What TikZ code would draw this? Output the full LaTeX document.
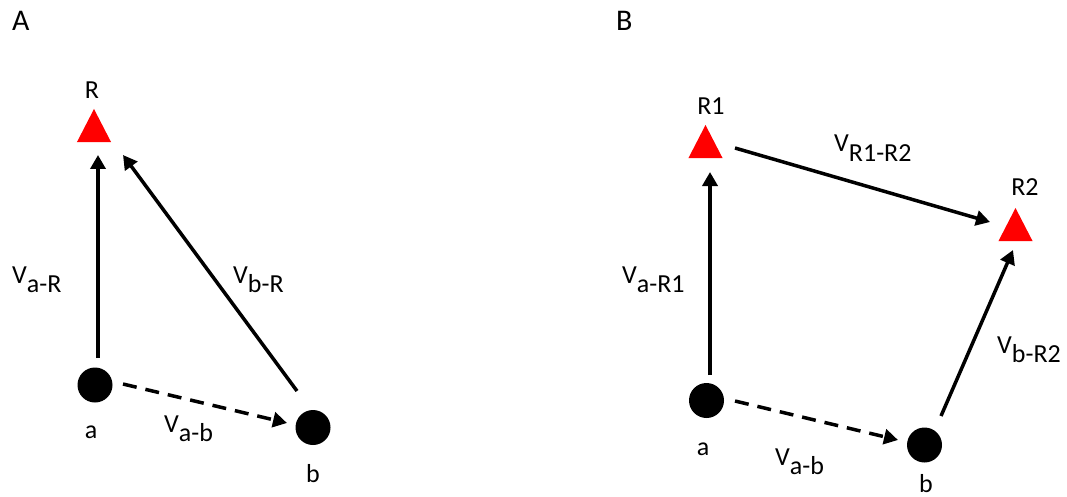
\documentclass[tikz,border=0pt]{standalone}
\usepackage{fontspec}
\setmainfont{Carlito}
\usetikzlibrary{arrows.meta,calc,shapes.geometric}
\begin{document}
\begin{tikzpicture}[x=1pt,y=-1pt,
  every node/.style={font=\fontsize{26}{31}\selectfont},
  lbl/.style={inner sep=0pt,anchor=base west},
  ltr/.style={inner sep=0pt,anchor=base},
  panel/.style={inner sep=0pt,anchor=base west,font=\fontsize{30}{36}\selectfont},
  dot/.style={circle,fill=black,minimum size=35pt,inner sep=0pt},
  rcv/.style={regular polygon,regular polygon sides=3,minimum size=39.3pt,inner sep=0pt,yscale=1.12,fill=red},
  arr/.style={line width=3.5pt,-{Triangle[length=14pt,width=15pt]}},
  darr/.style={arr,dash pattern=on 14pt off 9pt}]
\useasboundingbox (0,0) rectangle (1067,497);

% Panel A
\node[panel] (labA) at (12,31) {A};
\node[dot] (a) at (95,385) {};
\node[dot] (b) at (313,427.5) {};
\node[rcv] (R) at (94,131) {};
\node[ltr] (Rl) at (92,99) {R};
\node[ltr] (al) at (91,438) {a};
\node[ltr] (bl) at (313,482) {b};
\draw[arr] ($(a)+(3,-27)$) -- ($(R)+(4,24)$);
\draw[darr] ($(a)+(28,-1)$) -- ($(b)+(-26,-4.5)$);
\draw[arr] ($(b)+(-16,-36.5)$) -- ($(R)+(29,24)$);
\node[lbl] (vaR) at (12,283) {V\raisebox{-0.36em}{a-R}};
\node[lbl] (vbR) at (233,283) {V\raisebox{-0.36em}{b-R}};
\node[lbl] (vab) at (164,432) {V\raisebox{-0.36em}{a-b}};

% Panel B
\node[panel] (labB) at (616,31) {B};
\node[dot] (a2) at (706.5,400.5) {};
\node[dot] (b2) at (924.5,445) {};
\node[rcv] (R1) at (705.5,147) {};
\node[rcv] (R2) at (1015.5,230) {};
\node[ltr] (R1l) at (711,115) {R1};
\node[ltr] (R2l) at (1025,195) {R2};
\node[ltr] (a2l) at (703,455) {a};
\node[ltr] (b2l) at (926,492) {b};
\draw[arr] ($(a2)+(3.5,-25.5)$) -- ($(R1)+(4.5,25)$);
\draw[arr] ($(R1)+(29.5,1)$) -- ($(R2)+(-25.5,-8)$);
\draw[darr] ($(a2)+(28.5,0.5)$) -- ($(b2)+(-26.5,-5)$);
\draw[arr] ($(b2)+(16.5,-29)$) -- ($(R2)+(-2.5,20)$);
\node[lbl] (vaR1) at (622,283) {V\raisebox{-0.36em}{a-R1}};
\node[lbl] (vR12) at (834,152) {V\raisebox{-0.36em}{R1-R2}};
\node[lbl] (vbR2) at (997,353) {V\raisebox{-0.36em}{b-R2}};
\node[lbl] (vab2) at (775,465) {V\raisebox{-0.36em}{a-b}};
\end{tikzpicture}
\end{document}
